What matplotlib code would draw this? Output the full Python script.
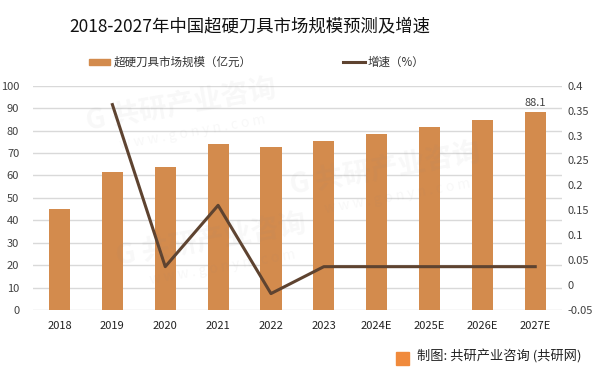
import matplotlib
matplotlib.use('Agg')
import matplotlib.pyplot as plt
import numpy as np

plt.rcParams['font.family'] = ['Noto Sans CJK SC', 'DejaVu Sans']

years = ['2018', '2019', '2020', '2021', '2022', '2023', '2024E', '2025E', '2026E', '2027E']
market = [45.0, 61.6, 63.9, 74.1, 72.8, 75.5, 78.5, 81.6, 84.7, 88.1]
growth = [None, 0.362, 0.037, 0.16, -0.017, 0.037, 0.037, 0.037, 0.037, 0.037]

bar_color = '#D38B4D'
line_color = '#5E4330'

fig = plt.figure(figsize=(6.02, 3.74), dpi=100)

# faint watermarks
for wx, wy in [(0.30, 0.72), (0.64, 0.55), (0.35, 0.36)]:
    fig.text(wx, wy, 'G 共研产业咨询', fontsize=20, fontweight='bold', color='#888888', alpha=0.06,
             rotation=10, ha='center', va='center', zorder=10)
    fig.text(wx + 0.02, wy - 0.075, 'w w w . g o n y n . c o m', fontsize=10, color='#888888', alpha=0.06,
             rotation=10, ha='center', va='center', zorder=10)

ax = fig.add_axes([0.055, 0.171, 0.878, 0.600])
x = np.arange(len(years))

ax.bar(x, market, width=0.4, color=bar_color, zorder=2)
ax.set_ylim(0, 100)
ax.set_yticks(range(0, 101, 10))
ax.set_xlim(-0.5, len(years) - 0.5)
ax.set_xticks(x)
ax.set_xticklabels(years)
ax.grid(axis='y', color='#D9D9D9', linewidth=1, zorder=0)
for s in ax.spines.values():
    s.set_visible(False)
ax.tick_params(length=0, labelsize=8, colors='#404040')
ax.tick_params(axis='x', pad=8, colors='#222222')
ax.tick_params(axis='y', pad=10)
ax.text(x[-1], market[-1] + 2, '88.1', ha='center', va='bottom', fontsize=8, color='#404040')

ax2 = ax.twinx()
gx = [i for i, g in enumerate(growth) if g is not None]
gy = [g for g in growth if g is not None]
ax2.plot(gx, gy, color=line_color, linewidth=2.2, zorder=3)
ax2.set_ylim(-0.05, 0.4)
ax2.set_yticks([-0.05, 0, 0.05, 0.1, 0.15, 0.2, 0.25, 0.3, 0.35, 0.4])
ax2.set_yticklabels(['-0.05', '0', '0.05', '0.1', '0.15', '0.2', '0.25', '0.3', '0.35', '0.4'])
for s in ax2.spines.values():
    s.set_visible(False)
ax2.tick_params(length=0, labelsize=8, colors='#404040', pad=4)

# title and legend
fig.text(0.415, 0.93, '2018-2027年中国超硬刀具市场规模预测及增速', ha='center', va='center',
         fontsize=12.5, color='#111111')
fig.patches.append(plt.Rectangle((89 / 602, 1 - 65 / 374), 21 / 602, 6 / 374,
                                 transform=fig.transFigure, color=bar_color))
fig.text(114 / 602, 1 - 62 / 374, '超硬刀具市场规模（亿元）', va='center', fontsize=8.3, color='#333333')
fig.lines.append(plt.Line2D([343 / 602, 365 / 602], [1 - 62 / 374, 1 - 62 / 374],
                            transform=fig.transFigure, color=line_color, linewidth=2.2))
fig.text(368 / 602, 1 - 62 / 374, '增速（%）', va='center', fontsize=8.3, color='#333333')

# footer
fig.patches.append(plt.Rectangle((396 / 602, 1 - 365 / 374), 13 / 602, 13 / 374,
                                 transform=fig.transFigure, color='#F08A3C'))
fig.text(417 / 602, 1 - 357 / 374, '制图: 共研产业咨询 (共研网)', va='center', fontsize=9.5, color='#222222')

fig.savefig('out.png', dpi=100)
